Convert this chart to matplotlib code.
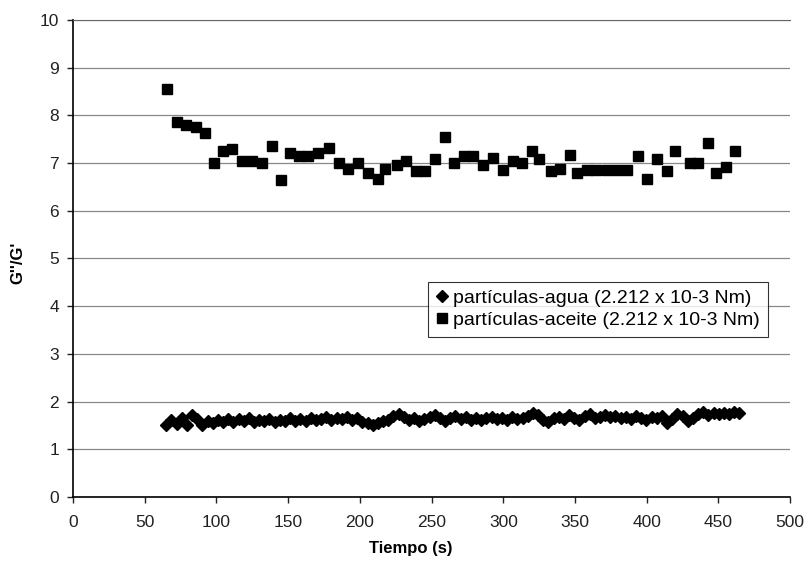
import matplotlib
matplotlib.use("Agg")
import matplotlib.pyplot as plt

plt.rcParams['font.family'] = ['Liberation Sans', 'DejaVu Sans']

# particulas-aceite (squares)
t_aceite = [65.7, 72.3, 78.8, 85.5, 92.3, 98.4, 104.4, 111.2, 118.0, 124.7,
            132.0, 138.5, 145.0, 151.0, 157.6, 164.0, 170.8, 178.3, 185.3, 191.8,
            198.6, 205.6, 212.6, 217.5, 226.0, 232.4, 239.0, 245.5, 252.4, 259.2,
            265.7, 272.7, 279.2, 285.5, 292.5, 299.5, 306.5, 312.8, 320.0, 325.2,
            333.4, 339.6, 346.6, 351.5, 358.3, 364.8, 372.0, 379.0, 386.0, 394.0,
            400.5, 407.0, 413.8, 420.0, 430.0, 436.0, 443.0, 448.3, 455.0, 461.5]
g_aceite = [8.55, 7.86, 7.80, 7.75, 7.62, 7.00, 7.26, 7.30, 7.05, 7.05,
            7.00, 7.35, 6.65, 7.21, 7.15, 7.15, 7.21, 7.32, 7.00, 6.87,
            7.01, 6.80, 6.67, 6.87, 6.96, 7.05, 6.84, 6.84, 7.09, 7.54,
            7.01, 7.15, 7.15, 6.96, 7.10, 6.86, 7.05, 7.00, 7.26, 7.09,
            6.84, 6.87, 7.17, 6.80, 6.86, 6.86, 6.86, 6.86, 6.86, 7.15,
            6.66, 7.09, 6.84, 7.25, 7.00, 7.00, 7.41, 6.79, 6.92, 7.25]

# particulas-agua (diamonds)
t_agua = [65.0, 68.6, 72.2, 75.8, 79.4, 83.0, 86.6, 90.2, 93.8, 97.4,
          101.0, 104.6, 108.2, 111.8, 115.4, 119.0, 122.6, 126.2, 129.8, 133.4,
          137.0, 140.6, 144.2, 147.8, 151.4, 155.0, 158.6, 162.2, 165.8, 169.4,
          173.0, 176.6, 180.2, 183.8, 187.4, 191.0, 194.6, 198.2, 201.8, 205.4,
          209.0, 212.6, 216.2, 219.8, 223.4, 227.0, 230.6, 234.2, 237.8, 241.4,
          245.0, 248.6, 252.2, 255.8, 259.4, 263.0, 266.6, 270.2, 273.8, 277.4,
          281.0, 284.6, 288.2, 291.8, 295.4, 299.0, 302.6, 306.2, 309.8, 313.4,
          317.0, 320.6, 324.2, 327.8, 331.4, 335.0, 338.6, 342.2, 345.8, 349.4,
          353.0, 356.6, 360.2, 363.8, 367.4, 371.0, 374.6, 378.2, 381.8, 385.4,
          389.0, 392.6, 396.2, 399.8, 403.4, 407.0, 410.6, 414.2, 417.8, 421.4,
          425.0, 428.6, 432.2, 435.8, 439.4, 443.0, 446.6, 450.2, 453.8, 457.4,
          461.0, 464.0]
g_agua = [1.50, 1.61, 1.54, 1.65, 1.51, 1.72, 1.63, 1.52, 1.60, 1.56,
          1.62, 1.58, 1.64, 1.57, 1.63, 1.60, 1.65, 1.58, 1.62, 1.59,
          1.64, 1.58, 1.62, 1.60, 1.65, 1.59, 1.63, 1.60, 1.66, 1.61,
          1.64, 1.68, 1.62, 1.66, 1.63, 1.67, 1.61, 1.65, 1.58, 1.55,
          1.50, 1.56, 1.60, 1.62, 1.70, 1.74, 1.68, 1.62, 1.65, 1.60,
          1.63, 1.68, 1.72, 1.65, 1.60, 1.66, 1.70, 1.63, 1.67, 1.61,
          1.66, 1.62, 1.65, 1.68, 1.63, 1.66, 1.62, 1.67, 1.64, 1.66,
          1.70, 1.76, 1.72, 1.62, 1.58, 1.65, 1.68, 1.64, 1.72, 1.65,
          1.62, 1.70, 1.75, 1.66, 1.68, 1.72, 1.67, 1.70, 1.65, 1.68,
          1.64, 1.70, 1.66, 1.62, 1.68, 1.65, 1.70, 1.56, 1.63, 1.74,
          1.70, 1.60, 1.66, 1.75, 1.78, 1.72, 1.76, 1.73, 1.77, 1.75,
          1.78, 1.76]

x_ticks = [0, 50, 100, 150, 200, 250, 300, 350, 400, 450, 500]
y_ticks = [0, 1, 2, 3, 4, 5, 6, 7, 8, 9, 10]

fig = plt.figure(figsize=(8.08, 5.69), dpi=100)
ax = fig.add_axes([0.0903, 0.1265, 0.8877, 0.8385])

ax.plot(t_agua, g_agua, linestyle='none', marker='D', markersize=5.8,
        color='black', label='partículas-agua (2.212 x 10-3 Nm)')
ax.plot(t_aceite, g_aceite, linestyle='none', marker='s', markersize=7,
        color='black', label='partículas-aceite (2.212 x 10-3 Nm)')

ax.set_xlim(0, 500)
ax.set_ylim(0, 10)
ax.set_xticks(x_ticks)
ax.set_yticks(y_ticks)
ax.tick_params(labelsize=12.5, direction='out', length=4, width=1,
               colors='#222222', pad=6)
ax.tick_params(axis='x', pad=9)
ax.grid(axis='y', color='#888888', linewidth=0.9)
ax.set_axisbelow(True)
ax.spines['right'].set_visible(False)
ax.spines['top'].set_color('#666666')
ax.spines['left'].set_linewidth(1.2)
ax.spines['bottom'].set_linewidth(1.2)

ax.set_xlabel('Tiempo (s)', fontsize=12, fontweight='bold')
ax.xaxis.set_label_coords(0.471, -0.092)
ax.set_ylabel("G''/G'", fontsize=12, fontweight='bold')
ax.yaxis.set_label_coords(-0.066, 0.49)

leg = ax.legend(loc='upper left', bbox_to_anchor=(0.495, 0.451), fontsize=14,
                frameon=True, fancybox=False, edgecolor='black',
                handlelength=0.6, handletextpad=0.3, borderpad=0.4,
                labelspacing=0.2, borderaxespad=0)
leg.get_frame().set_linewidth(0.8)

fig.savefig('out.png', dpi=100)
